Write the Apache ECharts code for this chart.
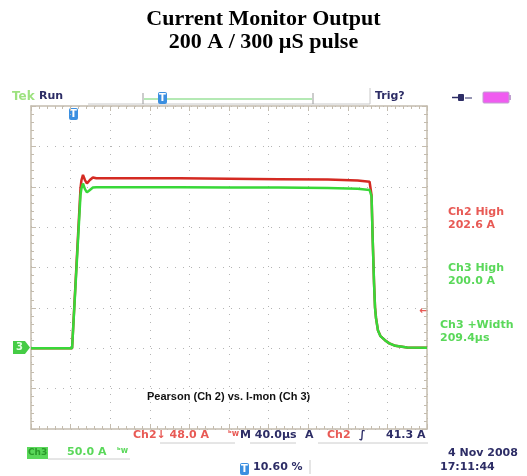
<!DOCTYPE html>
<html>
<head>
<meta charset="utf-8">
<script src="https://cdn.jsdelivr.net/npm/echarts@6/dist/echarts.min.js"></script>
<style>
  html, body { margin: 0; padding: 0; background: #fff; }
  #main { width: 527px; height: 476px; }
</style>
</head>
<body>
<div id="main"></div>
<script>
// time in microseconds, 40 us/div, 10 divs
var timesUs = [0, 41.5, 50, 51, 52.5, 54.5, 56.5, 59.5, 62.5, 66, 100, 150, 200, 250, 300, 330, 342,
               344, 345, 346.5, 347.5, 348.5, 350.5, 353, 357.5, 362, 368, 380, 400];
// Ch2 (Pearson), amps, 48 A/div
var ch2Amps = [0, 0, 190, 200, 206, 200, 196, 200, 203, 202, 202, 202, 201.5, 201, 200.5, 199.5, 198,
               182, 136, 78, 49, 36, 21, 14.5, 9.6, 5.8, 2.9, 1, 0.5];
// Ch3 (I-mon), amps, 50 A/div
var ch3Amps = [0, 0, 190, 198, 204, 197, 193, 196, 199, 199.5, 199.5, 199.5, 199, 199, 198.5, 197.5, 196,
               188, 140, 80, 50, 37, 22, 15, 10, 6, 3, 1, 0.5];

var navy = '#2d2d66';
var red = '#e85a55';
var green = '#5ad85a';
var frame = '#c4bcae';

function pairs(ys) {
    return timesUs.map(function (t, i) { return [t, ys[i]]; });
}

function tMarker(x, y) {
    return {
        type: 'group', left: x, top: y,
        children: [
            { type: 'rect', shape: { x: 0, y: 0, width: 9, height: 12, r: 2 }, style: { fill: '#3b8fe0' } },
            { type: 'text', style: { x: 4.5, y: 1, text: 'T', fill: '#fff', font: 'bold 10px DejaVu Sans', align: 'center' } }
        ]
    };
}

function scopeText(x, y, text, color, size) {
    return {
        type: 'text', left: x, top: y,
        style: { text: text, fill: color, font: 'bold ' + (size || 11) + 'px "DejaVu Sans"' }
    };
}

function frameAxis(extra) {
    var ax = {
        type: 'value',
        axisLabel: { show: false },
        axisLine: { show: true, onZero: false, lineStyle: { color: frame, width: 1.5 } },
        axisTick: { show: true, inside: true, length: 5, lineStyle: { color: frame } },
        minorTick: { show: true, splitNumber: 5, length: 3, lineStyle: { color: frame } },
        splitLine: { show: false }
    };
    for (var k in extra) ax[k] = extra[k];
    return ax;
}

var dots = { show: true, lineStyle: { color: '#b4b4b4', type: [1, 7], width: 1 } };

var myChart = echarts.init(document.getElementById('main'));
var option = {
    animation: false,
    title: {
        text: 'Current Monitor Output\n200 A / 300 µS pulse',
        left: 'center',
        top: 3,
        textStyle: {
            fontFamily: 'Liberation Serif',
            fontSize: 22,
            fontWeight: 'bold',
            color: '#000',
            lineHeight: 23
        }
    },
    grid: {
        left: 31, top: 106, width: 396, height: 323,
        show: false
    },
    xAxis: [
        frameAxis({ position: 'bottom', min: 0, max: 400, interval: 40, splitLine: dots }),
        frameAxis({ position: 'top', min: 0, max: 400, interval: 40 })
    ],
    yAxis: [
        frameAxis({ position: 'left', min: -100, max: 300, interval: 50, splitLine: dots }),
        frameAxis({ position: 'right', min: -96, max: 288, interval: 48 })
    ],
    series: [{
        name: 'Ch2',
        type: 'line',
        yAxisIndex: 1,
        data: pairs(ch2Amps),
        showSymbol: false,
        lineStyle: { color: '#d42a22', width: 2.5 }
    }, {
        name: 'Ch3',
        type: 'line',
        yAxisIndex: 0,
        data: pairs(ch3Amps),
        showSymbol: false,
        lineStyle: { color: '#38d838', width: 2.5 }
    }],
    graphic: [
        // header bar
        scopeText(12, 91, 'Tek', '#9de27f', 12),
        scopeText(39, 91, 'Run', navy, 11),
        { type: 'line', shape: { x1: 88, y1: 104, x2: 370, y2: 104 }, style: { stroke: '#c8c8c8', lineWidth: 1 } },
        { type: 'line', shape: { x1: 143, y1: 93, x2: 143, y2: 104 }, style: { stroke: '#999', lineWidth: 1 } },
        { type: 'line', shape: { x1: 313, y1: 93, x2: 313, y2: 104 }, style: { stroke: '#999', lineWidth: 1 } },
        { type: 'line', shape: { x1: 144, y1: 99, x2: 312, y2: 99 }, style: { stroke: '#9be29b', lineWidth: 1.5 } },
        { type: 'line', shape: { x1: 370, y1: 88, x2: 370, y2: 104 }, style: { stroke: '#c8c8c8', lineWidth: 1 } },
        tMarker(158, 92),
        scopeText(375, 91, 'Trig?', navy, 11),
        // plug and battery
        { type: 'rect', shape: { x: 458, y: 94, width: 6, height: 7, r: 1 }, style: { fill: navy } },
        { type: 'line', shape: { x1: 452, y1: 97.5, x2: 458, y2: 97.5 }, style: { stroke: navy, lineWidth: 1.5 } },
        { type: 'line', shape: { x1: 465, y1: 98, x2: 472, y2: 98 }, style: { stroke: navy, lineWidth: 1 } },
        { type: 'rect', shape: { x: 483, y: 92, width: 26, height: 11, r: 1 }, style: { fill: '#f05cf0', stroke: '#c0a0d0', lineWidth: 1 } },
        { type: 'rect', shape: { x: 509, y: 95, width: 2, height: 5 }, style: { fill: '#c0a0d0' } },
        // trigger position marker below frame top
        tMarker(69, 108),
        // channel 3 ground marker
        { type: 'polygon', shape: { points: [[13, 341], [25, 341], [30, 347.5], [25, 354], [13, 354]] }, style: { fill: '#45cc45' } },
        { type: 'text', left: 16, top: 342, style: { text: '3', fill: '#dfffdf', font: 'bold 10px "DejaVu Sans"' } },
        // trigger level arrow
        { type: 'text', left: 419, top: 306, style: { text: '←', fill: red, font: 'bold 11px "DejaVu Sans"' } },
        // measurement readouts
        { type: 'text', left: 448, top: 206, style: { text: 'Ch2 High\n202.6 A', fill: red, font: 'bold 11px "DejaVu Sans"', align: 'center', lineHeight: 13, width: 62 } },
        { type: 'text', left: 448, top: 262, style: { text: 'Ch3 High\n200.0 A', fill: green, font: 'bold 11px "DejaVu Sans"', align: 'center', lineHeight: 13, width: 62 } },
        { type: 'text', left: 440, top: 319, style: { text: 'Ch3 +Width\n209.4µs', fill: green, font: 'bold 11px "DejaVu Sans"', align: 'center', lineHeight: 13, width: 76 } },
        // annotation
        { type: 'text', left: 147, top: 391, style: { text: 'Pearson (Ch 2) vs. I-mon (Ch 3)', fill: '#111', font: 'bold 11px "Liberation Sans"' } },
        // bottom status lines
        scopeText(133, 430, 'Ch2↓ 48.0 A', red, 11),
        { type: 'line', shape: { x1: 160, y1: 443, x2: 235, y2: 443 }, style: { stroke: '#ccc', lineWidth: 1 } },
        scopeText(228, 430, 'ᵇw', red, 8),
        scopeText(240, 430, 'M 40.0µs', navy, 11),
        { type: 'line', shape: { x1: 250, y1: 443, x2: 296, y2: 443 }, style: { stroke: '#ccc', lineWidth: 1 } },
        scopeText(305, 430, 'A', navy, 11),
        scopeText(327, 430, 'Ch2', red, 11),
        scopeText(359, 430, '∫', navy, 11),
        scopeText(386, 430, '41.3 A', navy, 11),
        { type: 'line', shape: { x1: 318, y1: 443, x2: 428, y2: 443 }, style: { stroke: '#ccc', lineWidth: 1 } },
        { type: 'rect', shape: { x: 27, y: 447, width: 21, height: 12 }, style: { fill: '#5ad85a' } },
        scopeText(28, 448, 'Ch3', '#2a9a2a', 9),
        scopeText(67, 447, '50.0 A', green, 11),
        scopeText(117, 447, 'ᵇw', green, 8),
        { type: 'line', shape: { x1: 48, y1: 459, x2: 130, y2: 459 }, style: { stroke: '#ccc', lineWidth: 1 } },
        tMarker(240, 463),
        scopeText(253, 462, '10.60 %', navy, 11),
        { type: 'line', shape: { x1: 310, y1: 460, x2: 310, y2: 474 }, style: { stroke: '#ccc', lineWidth: 1 } },
        scopeText(448, 448, '4 Nov 2008', navy, 11),
        scopeText(440, 462, '17:11:44', navy, 11)
    ]
};
myChart.setOption(option);
</script>
</body>
</html>
